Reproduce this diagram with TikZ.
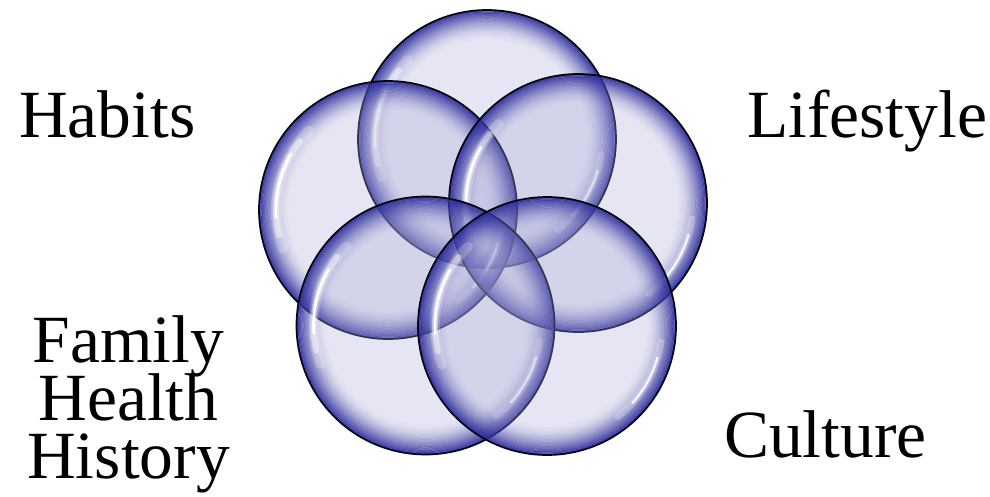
\documentclass[tikz,border=0pt]{standalone}
\usepackage{fontspec}
\setmainfont{Liberation Serif}
\definecolor{bubblefill}{RGB}{170,170,215}
\definecolor{rimcol}{RGB}{42,42,155}
\tikzset{
  lbl/.style={inner sep=0pt, font=\fontsize{67.5}{58}\selectfont},
  outline/.style={draw=black!90!rimcol, line width=1.7pt},
}
\newcommand{\bubble}[1]{%
  \fill[bubblefill, fill opacity=0.30] (#1) circle[radius=129pt];
  \foreach \i in {0,...,26}{%
    \pgfmathsetmacro{\op}{0.9*(1-\i/27)^2.0}%
    \pgfmathsetmacro{\rr}{128.2-\i*1.15}%
    \draw[rimcol, line width=1.3pt, draw opacity=\op] (#1) circle[radius=\rr pt];
  }
  \draw[white, line width=10pt, draw opacity=0.22, line cap=round] ([shift={(135:112pt)}]#1) arc[start angle=135, end angle=200, radius=112pt];
  \draw[white, line width=6pt, draw opacity=0.45, line cap=round] ([shift={(142:112pt)}]#1) arc[start angle=142, end angle=193, radius=112pt];
  \draw[white, line width=2.6pt, draw opacity=1, line cap=round] ([shift={(150:112pt)}]#1) arc[start angle=150, end angle=184, radius=112pt];
  \draw[white, line width=7pt, draw opacity=0.25, line cap=round] ([shift={(-52:115pt)}]#1) arc[start angle=-52, end angle=-8, radius=115pt];
  \draw[white, line width=2.4pt, draw opacity=0.85, line cap=round] ([shift={(-42:115pt)}]#1) arc[start angle=-42, end angle=-16, radius=115pt];
  \draw[outline] (#1) circle[radius=129pt];
}
\begin{document}
\begin{tikzpicture}[x=1pt,y=-1pt]
\useasboundingbox (0,0) rectangle (990,496);
\coordinate (ctop) at (487,139);
\coordinate (cleft) at (388,210);
\coordinate (cright) at (578,203);
\coordinate (cbl) at (425.5,325.5);
\coordinate (cbr) at (547,326);
\bubble{ctop}
\bubble{cleft}
\bubble{cright}
\bubble{cbl}
\bubble{cbr}
\node[lbl, anchor=base west] (habits) at (19,137) {Habits};
\node[lbl, anchor=base west] (lifestyle) at (747,137) {Lifestyle};
\node[lbl, anchor=base west] (culture) at (724,457) {Culture};
\node[lbl, anchor=base] (fam1) at (128.5,362) {Family};
\node[lbl, anchor=base] (fam2) at (128.5,420) {Health};
\node[lbl, anchor=base] (fam3) at (128.5,478) {History};
\end{tikzpicture}
\end{document}
